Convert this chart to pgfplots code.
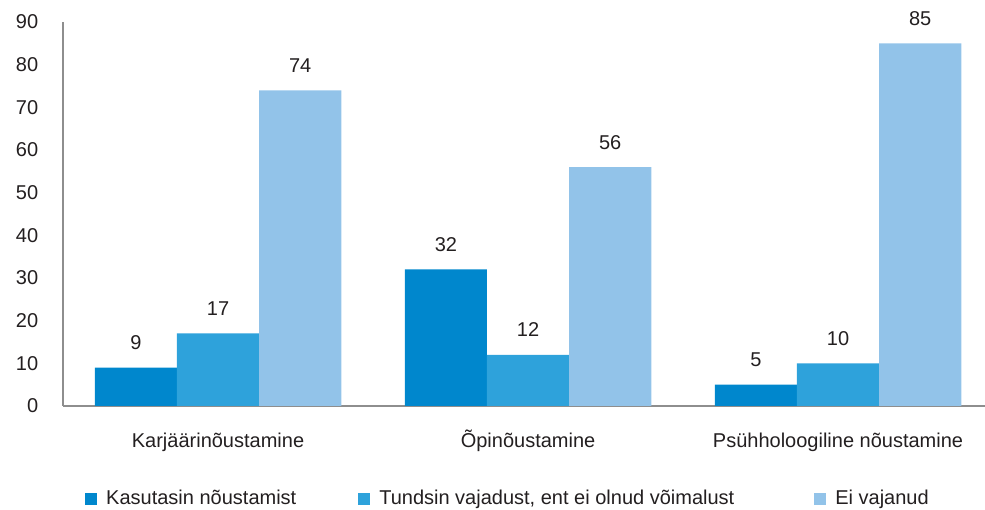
\documentclass[border=0pt]{standalone}
\usepackage{pgfplots}
\pgfplotsset{compat=1.18}
\usepackage{fontspec}
\setmainfont{Liberation Sans}

\definecolor{darkb}{HTML}{0087CD}
\definecolor{midb}{HTML}{2EA2DB}
\definecolor{lightb}{HTML}{92C3E9}
\definecolor{axgray}{HTML}{8E8E8E}
\definecolor{txt}{HTML}{231F20}

\begin{document}
\fontsize{20bp}{23bp}\selectfont
\begin{tikzpicture}[x=1bp,y=1bp]
\useasboundingbox (0,0) rectangle (985,510);
\begin{axis}[
  at={(63bp,104bp)}, anchor=south west,
  scale only axis,
  width=922bp, height=384bp,
  ybar=0pt,
  bar width=0.265,
  xmin=-0.5, xmax=2.474,
  ymin=0, ymax=90,
  ytick={0,10,...,90},
  xtick={0,1,2},
  xticklabels={Karjäärinõustamine,Õpinõustamine,Psühholoogiline nõustamine},
  axis x line*=bottom,
  axis y line*=left,
  axis line style={axgray, line width=2bp, -},
  major tick length=0pt,
  tick label style={text=txt, font=\fontsize{20bp}{23bp}\selectfont},
  /pgf/number format/assume math mode=true,
  yticklabel style={xshift=-18bp},
  xticklabel style={anchor=base, yshift=-42bp},
  nodes near coords,
  every node near coord/.append style={text=txt, font=\fontsize{20bp}{23bp}\selectfont, yshift=11bp},
  legend columns=3,
  legend style={at={(axis description cs:0.0239,-0.242)}, anchor=west, draw=none,
    inner sep=0pt, font=\fontsize{20bp}{23bp}\selectfont, text=txt,
    /tikz/column 2/.style={column sep=60bp},
    /tikz/column 4/.style={column sep=78bp},
    /tikz/every odd column/.style={column sep=7bp}},
  legend image code/.code={\fill[#1] (0bp,-6bp) rectangle (12bp,6bp);},
]
\addplot[draw=none, fill=darkb] coordinates {(0,9) (1,32) (2,5)};
\addplot[draw=none, fill=midb] coordinates {(0,17) (1,12) (2,10)};
\addplot[draw=none, fill=lightb] coordinates {(0,74) (1,56) (2,85)};
\legend{Kasutasin nõustamist, {Tundsin vajadust, ent ei olnud võimalust}, Ei vajanud}
\end{axis}
\end{tikzpicture}
\end{document}
